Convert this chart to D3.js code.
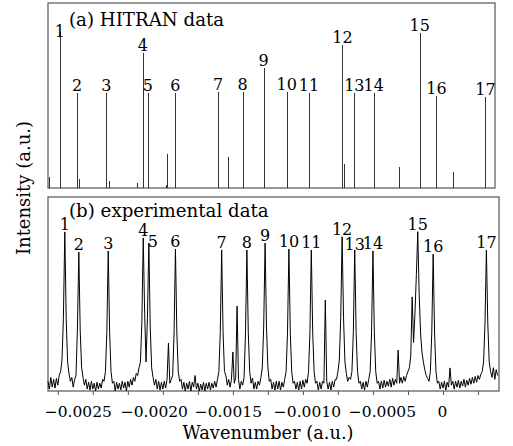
<!DOCTYPE html>
<html>
<head>
<meta charset="utf-8">
<script src="https://cdn.jsdelivr.net/npm/d3@7"></script>
<style>
  body { margin: 0; background: #fff; }
  text { font-family: "DejaVu Serif", serif; fill: #000; }
</style>
</head>
<body>
<svg id="chart" width="513" height="446"></svg>
<script>
"use strict"

// (a) HITRAN stick lines: wavenumber, relative intensity, peak number ("" = unlabeled)
const hitranWn = [-0.002813, -0.002735, -0.002613, -0.002599, -0.002403, -0.002406, -0.002387, -0.002182,
    -0.002142, -0.002108, -0.001975, -0.001968, -0.001911, -0.001606, -0.001537, -0.001430,
    -0.001280, -0.001116, -0.001114, -0.000957, -0.000718, -0.000709, -0.000633, -0.000495,
    -0.000311, -0.000166, -0.000161, -0.000047, 0.000074, 0.000303];
const hitranInt = [0.059, 0.843, 0.514, 0.049, 0.514, 0.189, 0.038, 0.027,
    0.730, 0.514, 0.016, 0.184, 0.514, 0.519, 0.168, 0.519,
    0.649, 0.519, 0.151, 0.514, 0.773, 0.130, 0.514, 0.514,
    0.114, 0.838, 0.508, 0.497, 0.086, 0.492];
const hitranLabel = ["", "1", "2", "", "3", "", "", "",
    "4", "5", "", "", "6", "7", "", "8",
    "9", "10", "", "11", "12", "", "13", "14",
    "", "15", "", "16", "", "17"];

// (b) experimental spectrum, sampled every expStep starting at expStart
const expStart = -0.00282;
const expStep = 0.00001;
const expInt = [
    0.05, 0.01, 0.07, 0.02, 0.06, 0.015, 0.065, 0.03, 0.08, 0.1,        // 0
    0.16, 0.38, 0.82, 0.37, 0.15, 0.09, 0.05, 0.07, 0.02, 0.06,         // 10
    0.08, 0.32, 0.716, 0.31, 0.12, 0.07, 0.03, 0.06, 0.01, 0.045,       // 20
    0.005, 0.05, 0.01, 0.04, 0.0, 0.045, 0.01, 0.04, 0.015, 0.06,       // 30
    0.05, 0.1, 0.3, 0.722, 0.3, 0.1, 0.04, 0.05, 0.0, 0.045,            // 40
    0.01, 0.04, 0.005, 0.05, 0.015, 0.045, 0.0, 0.05, 0.02, 0.06,       // 50
    0.03, 0.07, 0.05, 0.09, 0.08, 0.12, 0.15, 0.35, 0.789, 0.4,         // 60
    0.15, 0.38, 0.763, 0.33, 0.12, 0.07, 0.03, 0.06, 0.01, 0.05,        // 70
    0.005, 0.045, 0.01, 0.05, 0.015, 0.06, 0.247, 0.04, 0.06, 0.08,     // 80
    0.3, 0.732, 0.3, 0.1, 0.05, 0.06, 0.01, 0.045, 0.0, 0.04,           // 90
    0.01, 0.05, 0.0, 0.045, 0.02, 0.08, 0.01, 0.04, 0.0, 0.035,         // 100
    0.005, 0.045, 0.0, 0.04, 0.01, 0.045, 0.005, 0.04, 0.015, 0.05,     // 110
    0.02, 0.06, 0.1, 0.3, 0.727, 0.3, 0.1, 0.08, 0.03, 0.06,            // 120
    0.02, 0.06, 0.201, 0.04, 0.07, 0.438, 0.06, 0.01, 0.05, 0.03,       // 130
    0.07, 0.3, 0.727, 0.3, 0.1, 0.04, 0.067, 0.01, 0.045, 0.01,         // 140
    0.05, 0.03, 0.07, 0.12, 0.33, 0.763, 0.33, 0.12, 0.05, 0.06,        // 150
    0.01, 0.045, 0.005, 0.05, 0.01, 0.05, 0.005, 0.045, 0.02, 0.06,     // 160
    0.1, 0.3, 0.732, 0.3, 0.1, 0.04, 0.05, 0.01, 0.045, 0.005,          // 170
    0.05, 0.01, 0.055, 0.02, 0.06, 0.04, 0.1, 0.3, 0.727, 0.3,          // 180
    0.1, 0.04, 0.05, 0.005, 0.045, 0.01, 0.05, 0.04, 0.469, 0.05,       // 190
    0.01, 0.045, 0.005, 0.05, 0.02, 0.06, 0.06, 0.1, 0.16, 0.38,        // 200
    0.795, 0.38, 0.15, 0.09, 0.05, 0.07, 0.06, 0.1, 0.3, 0.727,         // 210
    0.3, 0.1, 0.04, 0.05, 0.01, 0.045, 0.005, 0.05, 0.02, 0.06,         // 220
    0.1, 0.3, 0.722, 0.3, 0.1, 0.04, 0.05, 0.01, 0.05, 0.015,           // 230
    0.055, 0.02, 0.05, 0.025, 0.06, 0.02, 0.065, 0.03, 0.06, 0.04,      // 240
    0.211, 0.04, 0.07, 0.04, 0.075, 0.05, 0.08, 0.1, 0.12, 0.18,        // 250
    0.485, 0.25, 0.4, 0.6, 0.821, 0.5, 0.3, 0.2, 0.15, 0.11,            // 260
    0.08, 0.065, 0.05, 0.1, 0.3, 0.706, 0.3, 0.1, 0.04, 0.05,           // 270
    0.01, 0.045, 0.015, 0.05, 0.005, 0.045, 0.02, 0.119, 0.03, 0.05,    // 280
    0.01, 0.05, 0.02, 0.055, 0.015, 0.05, 0.025, 0.06, 0.02, 0.055,     // 290
    0.03, 0.065, 0.035, 0.07, 0.04, 0.075, 0.045, 0.08, 0.06, 0.085,    // 300
    0.1, 0.15, 0.35, 0.727, 0.35, 0.15, 0.1, 0.07, 0.12, 0.06,          // 310
    0.11, 0.08                                                          // 320
];
const expPeakIdx = [12, 22, 43, 68, 72, 91, 124, 142, 155, 172, 188, 210, 219, 232, 264, 275, 313];
const expPeakLabel = ["1", "2", "3", "4", "5", "6", "7", "8", "9", "10",
    "11", "12", "13", "14", "15", "16", "17"];

const xTicks = [-0.00275, -0.0025, -0.00225, -0.002, -0.00175, -0.0015, -0.00125,
    -0.001, -0.00075, -0.0005, -0.00025, 0, 0.00025];
const xMajor = [-0.0025, -0.002, -0.0015, -0.001, -0.0005, 0];

const svg = d3.select("#chart");

// panel geometry
const left = 48, right = 499, topRight = 495;
const panelA = { top: 3, bottom: 188 };
const panelB = { top: 197, bottom: 391 };

let x = d3.scaleLinear().domain([-0.00282, 0.0004]).range([left, right]);
let yA = d3.scaleLinear().domain([0, 1]).range([panelA.bottom, panelA.top]);
let yB = d3.scaleLinear().domain([0, 1]).range([panelB.bottom, panelB.top]);

// small nudges so labels sit where the original put them
const labelNudgeA = { "1": [0, 7] };
const labelNudgeB = { "5": [4, 6], "13": [0, 2] };
const tickLabelShift = [-15, -9, -5, 4, 9, -1];

/* panel frames */
svg.append("rect")
    .attr("x", left).attr("y", panelA.top)
    .attr("width", topRight - left).attr("height", panelA.bottom - panelA.top)
    .attr("fill", "none").attr("stroke", "#555").attr("stroke-width", 1.2);

svg.append("rect")
    .attr("x", left).attr("y", panelB.top)
    .attr("width", right - left).attr("height", panelB.bottom - panelB.top)
    .attr("fill", "none").attr("stroke", "#555").attr("stroke-width", 1.2);

/* (a) HITRAN sticks */
let hitran = hitranWn.map((wn, i) => ({ wn: wn, v: hitranInt[i], label: hitranLabel[i] }));

let gA = svg.append("g");
gA.selectAll("line.stick")
    .data(hitran)
    .join("line")
    .attr("class", "stick")
    .attr("x1", d => Math.round(x(d.wn)) + 0.5)
    .attr("x2", d => Math.round(x(d.wn)) + 0.5)
    .attr("y1", yA(0))
    .attr("y2", d => yA(d.v))
    .attr("stroke", "#333")
    .attr("stroke-width", 1);

gA.selectAll("text.peak")
    .data(hitran.filter(d => d.label !== ""))
    .join("text")
    .attr("class", "peak")
    .attr("text-anchor", "middle")
    .attr("font-size", "16px")
    .attr("x", d => x(d.wn) + (labelNudgeA[d.label] ? labelNudgeA[d.label][0] : 0))
    .attr("y", d => yA(d.v) - 2 + (labelNudgeA[d.label] ? labelNudgeA[d.label][1] : 0))
    .text(d => d.label);

svg.append("text")
    .attr("x", 69).attr("y", 26)
    .attr("font-size", "18.2px")
    .text("(a) HITRAN data");

/* (b) experimental spectrum */
let gB = svg.append("g");
let line = d3.line()
    .x((d, i) => x(expStart + i * expStep))
    .y(d => yB(d));

gB.append("path")
    .datum(expInt)
    .attr("d", line)
    .attr("fill", "none")
    .attr("stroke", "#000")
    .attr("stroke-width", 1)
    .attr("stroke-linejoin", "round");

gB.selectAll("text.peak")
    .data(expPeakIdx.map((idx, k) => ({ wn: expStart + idx * expStep, v: expInt[idx], label: expPeakLabel[k] })))
    .join("text")
    .attr("class", "peak")
    .attr("text-anchor", "middle")
    .attr("font-size", "16px")
    .attr("x", d => x(d.wn) + (labelNudgeB[d.label] ? labelNudgeB[d.label][0] : 0))
    .attr("y", d => yB(d.v) - 2 + (labelNudgeB[d.label] ? labelNudgeB[d.label][1] : 0))
    .text(d => d.label);

svg.append("text")
    .attr("x", 69).attr("y", 217)
    .attr("font-size", "18.2px")
    .text("(b) experimental data");

/* x axis */
let fmt = d3.format(".4f");
let xAxis = d3.axisBottom(x)
    .tickValues(xTicks)
    .tickSize(4)
    .tickPadding(11)
    .tickFormat(d => {
        let k = xMajor.findIndex(m => Math.abs(m - d) < 1e-9);
        if (k < 0) return "";
        return d === 0 ? "0" : fmt(d);
    });

let gx = svg.append("g")
    .attr("transform", "translate(0," + panelB.bottom + ")")
    .call(xAxis);
gx.select(".domain").remove();
gx.selectAll(".tick line").attr("stroke", "#555");
gx.selectAll(".tick text")
    .attr("font-family", "DejaVu Serif, serif")
    .attr("font-size", "15.5px")
    .attr("fill", "#000")
    .attr("dx", d => {
        let k = xMajor.findIndex(m => Math.abs(m - d) < 1e-9);
        return k < 0 ? 0 : tickLabelShift[k];
    });

svg.append("text")
    .attr("x", 268).attr("y", 439)
    .attr("text-anchor", "middle")
    .attr("font-size", "17.8px")
    .text("Wavenumber (a.u.)");

svg.append("text")
    .attr("transform", "translate(30,188) rotate(-90)")
    .attr("text-anchor", "middle")
    .attr("font-size", "18px")
    .text("Intensity (a.u.)");
</script>
</body>
</html>
